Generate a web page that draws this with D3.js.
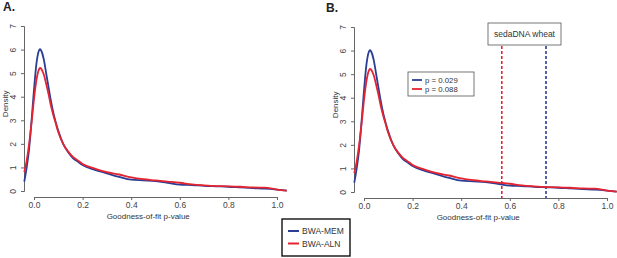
<!DOCTYPE html>
<html>
<head>
<meta charset="utf-8">
<script src="https://cdn.jsdelivr.net/npm/d3@7"></script>
<style>
  body { margin: 0; background: #fff; }
  svg { display: block; font-family: "Liberation Sans", Arial, sans-serif; }
</style>
</head>
<body>
<svg id="chart" width="617" height="258"></svg>
<script>
// p-value grid the density curves were read at
const pGrid = [-0.04, -0.03, -0.02, -0.01, 0.0, 0.01, 0.02, 0.025, 0.03, 0.04, 0.05, 0.06, 0.07, 0.08, 0.09, 0.10,
  0.12, 0.14, 0.16, 0.18, 0.20, 0.25, 0.30, 0.35, 0.40, 0.45, 0.50, 0.55, 0.60, 0.65, 0.70, 0.75, 0.80, 0.85, 0.90, 0.95, 1.00, 1.04]
const memDensity = [0.4, 1.0, 1.8, 3.0, 4.3, 5.4, 5.95, 6.02, 5.95, 5.6, 5.0, 4.4, 3.8, 3.3, 2.9, 2.55,
  2.0, 1.65, 1.4, 1.25, 1.1, 0.9, 0.75, 0.6, 0.48, 0.45, 0.42, 0.35, 0.27, 0.25, 0.22, 0.2, 0.18, 0.15, 0.12, 0.1, 0.06, 0.02]
const alnDensity = [0.8, 1.3, 2.0, 2.9, 3.9, 4.7, 5.15, 5.22, 5.18, 4.95, 4.55, 4.1, 3.6, 3.2, 2.85, 2.5,
  2.0, 1.68, 1.45, 1.3, 1.15, 0.95, 0.8, 0.7, 0.58, 0.5, 0.45, 0.4, 0.35, 0.28, 0.24, 0.21, 0.2, 0.18, 0.15, 0.14, 0.06, 0.02]

const seriesNames = ["BWA-MEM", "BWA-ALN"]
const seriesColors = ["#2a3e96", "#e42430"]
const xTicks = [0, 0.2, 0.4, 0.6, 0.8, 1.0]
const yTicks = [0, 1, 2, 3, 4, 5, 6, 7]

// sedaDNA wheat observed goodness-of-fit values (panel B)
const wheatFit = [0.749, 0.567]
const wheatP = ["p = 0.029", "p = 0.088"]

const svg = d3.select("#chart")

function drawPanel(dx, dy, letter, withWheat){
    const g = svg.append("g").attr("transform", `translate(${dx},${dy})`)
    const x = d3.scaleLinear().domain([0, 1]).range([34, 277])
    const y = d3.scaleLinear().domain([0, 7]).range([191, 26])

    g.append("text").text(letter)
        .attr("x", 3 - (withWheat ? 7 : 0)).attr("y", 11)
        .attr("font-weight", "bold").attr("font-size", 12).attr("fill", "#222")

    //x axis
    const xAxis = g.append("g").attr("transform", "translate(0,197)")
        .call(d3.axisBottom(x).tickValues(xTicks).tickFormat(d3.format(".1f")).tickSize(3).tickPadding(2))
    xAxis.select(".domain").attr("stroke", "#666")
    xAxis.selectAll(".tick line").attr("stroke", "#666")
    xAxis.selectAll("text").attr("font-size", 8.5).attr("fill", "#444").attr("font-family", null)

    //y axis, labels rotated like R's default
    const yAxis = g.append("g").attr("transform", "translate(24,0)")
        .call(d3.axisLeft(y).tickValues(yTicks).tickFormat(d3.format("d")).tickSize(3).tickPadding(2))
    yAxis.select(".domain").attr("stroke", "#666")
    yAxis.selectAll(".tick line").attr("stroke", "#666")
    yAxis.selectAll("text").attr("font-size", 8.5).attr("fill", "#444").attr("font-family", null)
        .attr("transform", "rotate(-90)").attr("x", 0).attr("y", -8)
        .attr("dy", "0").attr("text-anchor", "middle")

    g.append("text").text("Goodness-of-fit p-value")
        .attr("x", x(0.47)).attr("y", 219).attr("text-anchor", "middle")
        .attr("font-size", 8).attr("fill", "#333")
    g.append("text").text("Density")
        .attr("transform", `translate(8,${y(3.7)}) rotate(-90)`)
        .attr("text-anchor", "middle").attr("font-size", 8).attr("fill", "#333")

    const line = d3.line().x(d => x(d[0])).y(d => y(d[1])).curve(d3.curveMonotoneX)

    if(withWheat){
        wheatFit.forEach((v, i) => {
            g.append("line")
                .attr("x1", x(v)).attr("x2", x(v)).attr("y1", 30).attr("y2", 197)
                .attr("stroke", seriesColors[i]).attr("stroke-width", 1.6)
                .attr("stroke-dasharray", "3,2")
        })
    }

    const sets = [memDensity, alnDensity]
    sets.forEach((vals, i) => {
        g.append("path")
            .datum(pGrid.map((p, k) => [p, vals[k]]))
            .attr("d", line)
            .attr("fill", "none")
            .attr("stroke", seriesColors[i])
            .attr("stroke-width", 1.8)
            .attr("stroke-linejoin", "round")
    })

    if(withWheat){
        //label box covering the top of the dashed lines
        g.append("rect").attr("x", 158).attr("y", 22).attr("width", 73).attr("height", 22)
            .attr("fill", "#fff").attr("stroke", "#555").attr("stroke-width", 0.8)
        g.append("text").text("sedaDNA wheat").attr("x", 194.5).attr("y", 36)
            .attr("text-anchor", "middle").attr("font-size", 8.5).attr("fill", "#333")

        //p-value legend
        const lg = g.append("g").attr("transform", "translate(78,71)")
        lg.append("rect").attr("width", 66).attr("height", 24)
            .attr("fill", "#fff").attr("stroke", "#555").attr("stroke-width", 0.8)
        wheatP.forEach((t, i) => {
            lg.append("line").attr("x1", 4).attr("x2", 14).attr("y1", 8 + i * 9).attr("y2", 8 + i * 9)
                .attr("stroke", seriesColors[i]).attr("stroke-width", 1.8)
            lg.append("text").text(t).attr("x", 17).attr("y", 10.8 + i * 9)
                .attr("font-size", 7.8).attr("fill", "#333")
        })
    }
}

drawPanel(0, 0, "A.", false)
drawPanel(330, 1, "B.", true)

//shared legend at bottom
const leg = svg.append("g").attr("transform", "translate(282,219)")
leg.append("rect").attr("width", 68).attr("height", 37)
    .attr("fill", "#fff").attr("stroke", "#111").attr("stroke-width", 1.4)
seriesNames.forEach((name, i) => {
    leg.append("line").attr("x1", 6).attr("x2", 17).attr("y1", 12 + i * 12.5).attr("y2", 12 + i * 12.5)
        .attr("stroke", seriesColors[i]).attr("stroke-width", 2)
    leg.append("text").text(name).attr("x", 20).attr("y", 15 + i * 12.5)
        .attr("font-size", 8.5).attr("fill", "#333")
})
</script>
</body>
</html>
